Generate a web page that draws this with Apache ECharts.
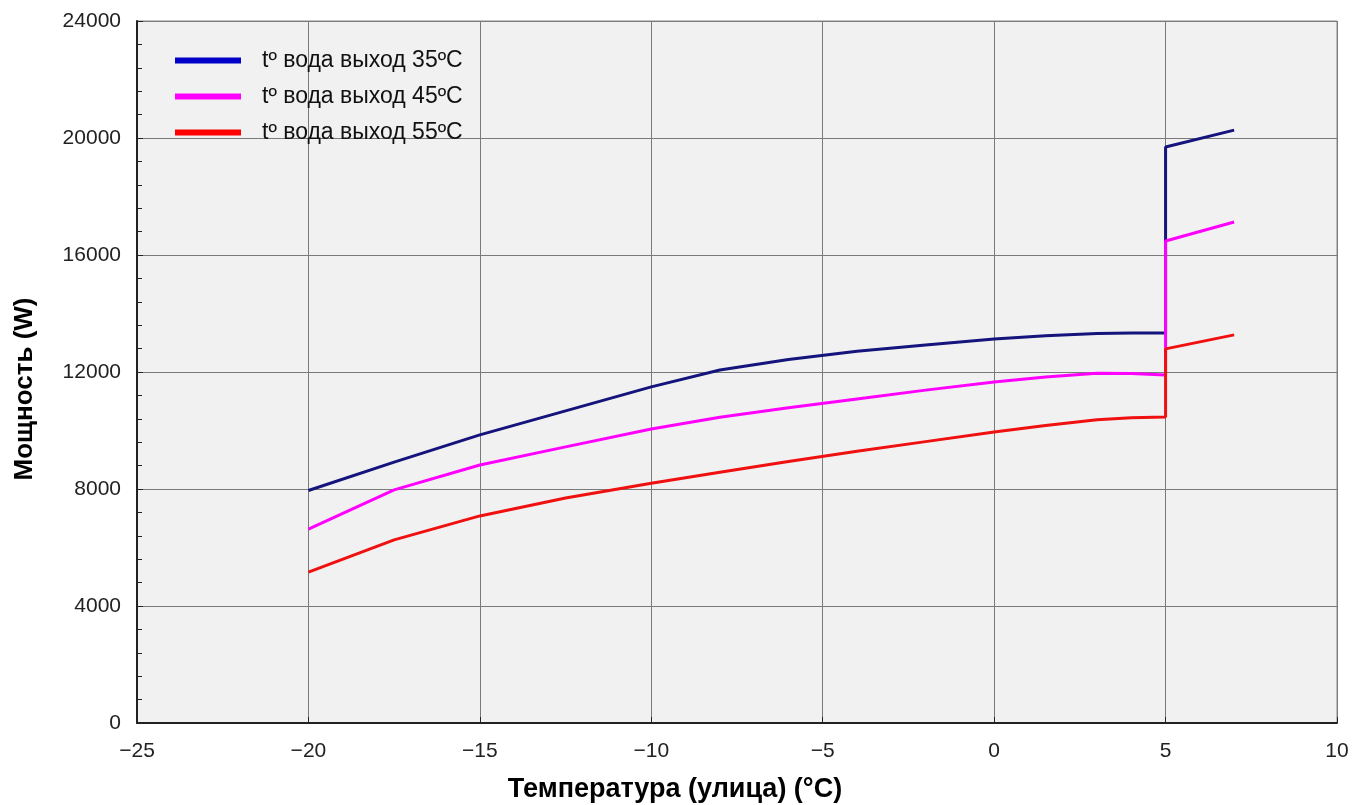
<!DOCTYPE html>
<html>
<head>
<meta charset="utf-8">
<script src="https://cdn.jsdelivr.net/npm/echarts@6/dist/echarts.min.js"></script>
<style>
    html, body { margin: 0; padding: 0; background: #fff; }
    #chart { width: 1352px; height: 805px; }
</style>
</head>
<body>
<div id="chart"></div>
<script>
// температура улицы (°C)
var temps = [-20, -17.5, -15, -12.5, -10, -8, -6, -4, -2, 0, 1.5, 3, 4, 5, 5, 7];
// мощность (W)
var water35 = [7950, 8920, 9850, 10670, 11490, 12070, 12430, 12710, 12920, 13130, 13240, 13320, 13330, 13330, 19690, 20270];
var water45 = [6630, 7970, 8820, 9440, 10050, 10450, 10780, 11080, 11380, 11660, 11830, 11960, 11950, 11900, 16480, 17130];
var water55 = [5160, 6260, 7080, 7690, 8200, 8570, 8940, 9290, 9620, 9950, 10170, 10370, 10440, 10460, 12790, 13270];
var names = ['tº вода выход 35ºC', 'tº вода выход 45ºC', 'tº вода выход 55ºC'];
var lineColors = ['#14147c', '#ff00ff', '#f01010'];
var legendColors = ['#0000c8', '#ff00ff', '#ff0000'];

function pairs(ys) {
    return temps.map(function (t, i) { return [t, ys[i]]; });
}

var chart = echarts.init(document.getElementById('chart'));
var font = "'Liberation Sans', Arial, sans-serif";
var option = {
    animation: false,
    textStyle: { fontFamily: font },
    grid: {
        left: 137, right: 15, top: 21, bottom: 82,
        outerBoundsMode: 'none',
        show: true,
        backgroundColor: '#f1f1f1',
        borderColor: '#8a8a8a',
        borderWidth: 1
    },
    legend: {
        orient: 'vertical',
        left: 170,
        top: 44,
        icon: 'rect',
        itemWidth: 66,
        itemHeight: 6,
        itemGap: 13,
        textStyle: { fontSize: 23, color: '#111', padding: [0, 0, 0, 16], fontFamily: font },
        data: names.map(function (n, i) {
            return { name: n, itemStyle: { color: legendColors[i] } };
        })
    },
    xAxis: {
        type: 'value',
        min: -25, max: 10, interval: 5,
        name: 'Температура (улица) (°C)',
        nameLocation: 'middle',
        nameGap: 53,
        nameTextStyle: { fontSize: 27, fontWeight: 'bold', color: '#000', padding: [0, 124, 0, 0] },
        axisLine: { onZero: false, lineStyle: { color: '#222', width: 2 } },
        axisTick: { inside: true, length: 6, lineStyle: { color: '#222' } },
        axisLabel: {
            fontSize: 21, color: '#222', margin: 18,
            formatter: function (v) { return String(v).replace('-', '−'); }
        },
        splitLine: { lineStyle: { color: '#7a7a7a', width: 1 } }
    },
    yAxis: {
        type: 'value',
        min: 0, max: 24000, interval: 4000,
        name: 'Мощность (W)',
        nameLocation: 'middle',
        nameGap: 99,
        nameTextStyle: { fontSize: 26, fontWeight: 'bold', color: '#000', padding: [0, 34, 0, 0] },
        axisLine: { show: true, onZero: false, lineStyle: { color: '#222', width: 2 } },
        axisTick: { inside: true, length: 6, lineStyle: { color: '#222' } },
        minorTick: { show: true, splitNumber: 5, length: 5, lineStyle: { color: '#222' } },
        axisLabel: {
            fontSize: 21, color: '#222', margin: 16,
            formatter: function (v) { return String(v); }
        },
        splitLine: { lineStyle: { color: '#7a7a7a', width: 1 } }
    },
    series: [water35, water45, water55].map(function (ys, i) {
        return {
            name: names[i],
            type: 'line',
            data: pairs(ys),
            symbol: 'none',
            itemStyle: { color: legendColors[i] },
            lineStyle: { color: lineColors[i], width: 3 }
        };
    })
};
chart.setOption(option);
</script>
</body>
</html>
